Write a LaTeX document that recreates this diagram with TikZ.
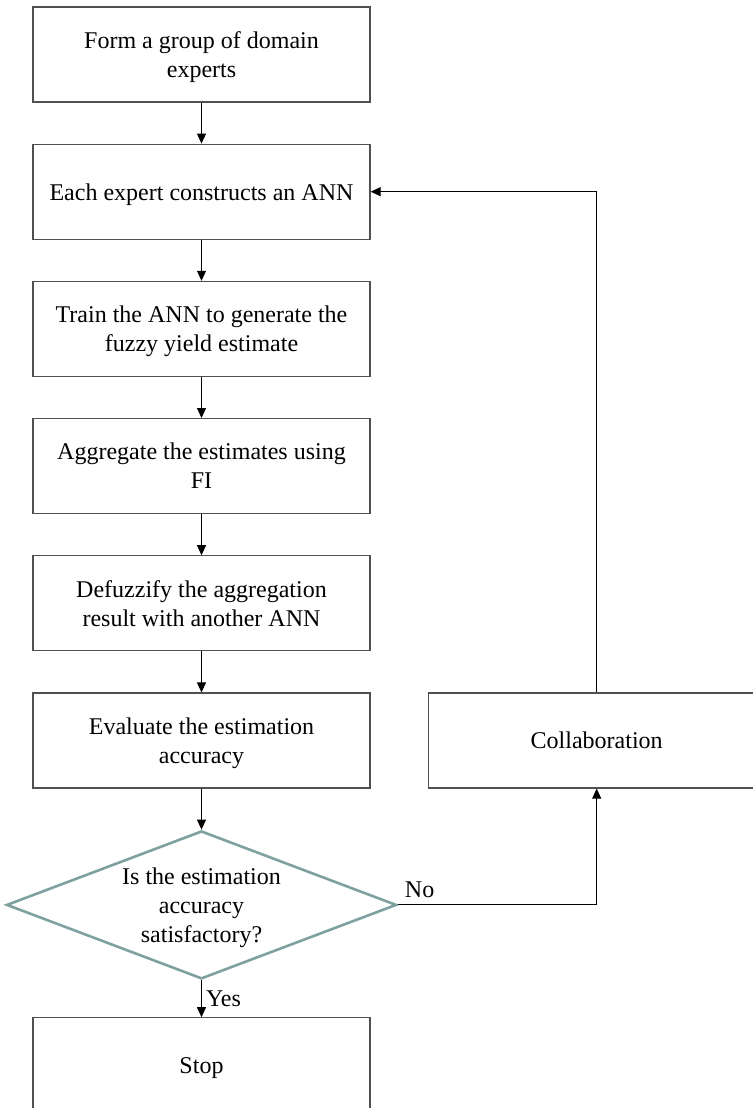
\documentclass[tikz,border=0pt]{standalone}
\usepackage{fontspec}
\setmainfont{Liberation Serif}
\usetikzlibrary{positioning,shapes.geometric,arrows.meta}
\definecolor{boxgray}{RGB}{80,80,80}
\definecolor{diagray}{RGB}{127,160,161}

\begin{document}
\begin{tikzpicture}[x=0.5pt,y=-0.5pt,
        font=\fontsize{12}{14.5}\selectfont,
        stepbox/.style={draw=boxgray,line width=0.6pt,minimum width=168.5pt,minimum height=47.5pt,text depth=0pt,align=center},
        decision/.style={diamond,draw=diagray,line width=1.3pt,minimum width=195pt,minimum height=74pt,aspect=2.6,inner sep=0pt,text depth=0pt,align=center},
        flow/.style={draw=black,line width=0.5pt,-{Triangle[length=5pt,width=4.5pt]}},
        node distance=20.5pt]
        \useasboundingbox (0,0) rectangle (753,1108);
        \clip (0,0) rectangle (753,1108);
        \node[stepbox] (form) at (201.5,54.5) {Form a group of domain\\experts};
        \node[stepbox,below=of form] (expert) {Each expert constructs an ANN};
        \node[stepbox,below=of expert] (train) {Train the ANN to generate the\\fuzzy yield estimate};
        \node[stepbox,below=of train] (aggregate) {Aggregate the estimates using\\FI};
        \node[stepbox,below=of aggregate] (defuzz) {Defuzzify the aggregation\\result with another ANN};
        \node[stepbox,below=of defuzz] (evaluate) {Evaluate the estimation\\accuracy};
        \node[decision,below=of evaluate] (check) {Is the estimation\\accuracy\\satisfactory?};
        \node[stepbox,below=18.5pt of check] (stop) {Stop};
        \node[stepbox,right=28.5pt of evaluate] (collab) {Collaboration};
        \draw[flow] (form) -- (expert);
        \draw[flow] (expert) -- (train);
        \draw[flow] (train) -- (aggregate);
        \draw[flow] (aggregate) -- (defuzz);
        \draw[flow] (defuzz) -- (evaluate);
        \draw[flow] (evaluate) -- (check.north);
        \draw[flow] (check.south) -- node[right,inner sep=2pt]{Yes} (stop);
        \draw[flow] (check.east) -| node[pos=0,above right]{No} (collab.south);
        \draw[flow] (collab) |- (expert);
\end{tikzpicture}
\end{document}
